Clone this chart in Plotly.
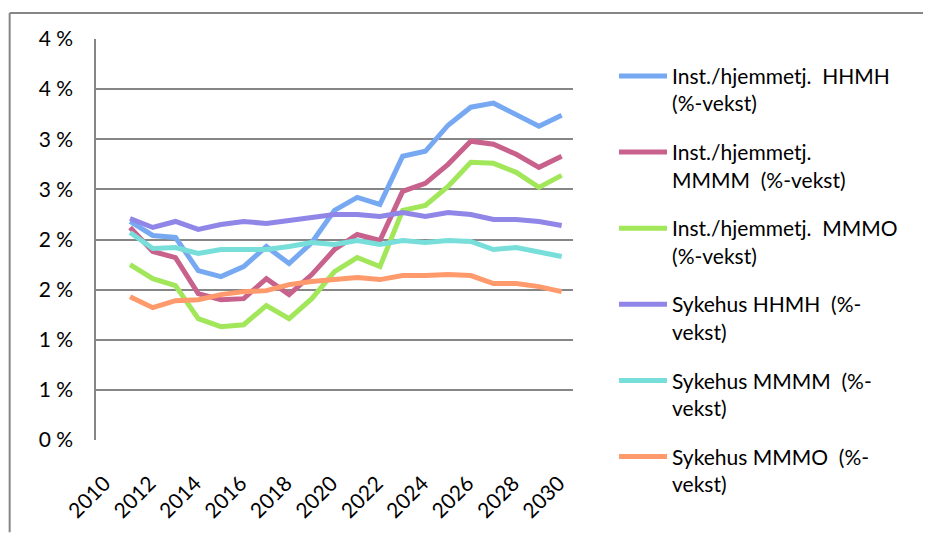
import plotly.graph_objects as go

# growth in percent
years = list(range(2011, 2031))

inst_hhmh = [2.18, 2.04, 2.02, 1.69, 1.63, 1.73, 1.93, 1.76, 1.97, 2.29,
             2.42, 2.35, 2.83, 2.88, 3.14, 3.32, 3.36, 3.24, 3.13, 3.24]
inst_mmmm = [2.12, 1.88, 1.82, 1.46, 1.40, 1.41, 1.61, 1.45, 1.65, 1.90,
             2.05, 1.99, 2.48, 2.56, 2.75, 2.98, 2.95, 2.85, 2.72, 2.83]
inst_mmmo = [1.75, 1.61, 1.54, 1.21, 1.13, 1.15, 1.34, 1.21, 1.41, 1.68,
             1.82, 1.73, 2.29, 2.34, 2.53, 2.77, 2.76, 2.67, 2.52, 2.64]
syk_hhmh = [2.21, 2.12, 2.18, 2.10, 2.15, 2.18, 2.16, 2.19, 2.23, 2.25,
            2.25, 2.23, 2.27, 2.23, 2.27, 2.25, 2.20, 2.20, 2.18, 2.14]
syk_mmmm = [2.07, 1.91, 1.92, 1.86, 1.90, 1.90, 1.90, 1.93, 1.97, 1.95,
            1.99, 1.95, 1.99, 1.97, 1.99, 1.98, 1.90, 1.92, 1.88, 1.83]
syk_mmmo = [1.43, 1.32, 1.39, 1.40, 1.45, 1.48, 1.49, 1.55, 1.58, 1.60,
            1.62, 1.60, 1.64, 1.64, 1.65, 1.64, 1.56, 1.56, 1.53, 1.48]

names = ['Inst./hjemmetj.  HHMH<br>(%-vekst)',
         'Inst./hjemmetj.<br>MMMM  (%-vekst)',
         'Inst./hjemmetj.  MMMO<br>(%-vekst)',
         'Sykehus HHMH  (%-<br>vekst)',
         'Sykehus MMMM  (%-<br>vekst)',
         'Sykehus MMMO  (%-<br>vekst)']
colors = ['#77A9F2', '#C8628C', '#A2E65A', '#8F86E8', '#78DEDA', '#FF9A6C']

y_ticks = [0, 0.5, 1, 1.5, 2, 2.5, 3, 3.5, 4]
y_labels = ['0 %', '1 %', '1 %', '2 %', '2 %', '3 %', '3 %', '4 %', '4 %']
x_ticks = list(range(2010, 2031, 2))

fig = go.Figure()
series = [inst_hhmh, inst_mmmm, inst_mmmo, syk_hhmh, syk_mmmm, syk_mmmo]
for i, (vals, name, col) in enumerate(zip(series, names, colors)):
    fig.add_trace(go.Scatter(x=years, y=vals, name=name, mode='lines',
                             legendgroup=str(i),
                             line=dict(color=col, width=5)))

grid = '#868686'
# the page body adds 8px around the figure, so keep it inside the window
fig.update_layout(
    width=915, height=526,
    margin=dict(l=88, r=350, t=31, b=90),
    paper_bgcolor='white', plot_bgcolor='white',
    font=dict(family='Lato', size=21, color='black'),
    showlegend=True,
    legend=dict(x=1.086, y=0.958, xanchor='left', yanchor='top',
                valign='top', tracegroupgap=18.5, itemwidth=48,
                maxheight=520,
                font=dict(family='Lato', size=21, color='black')),
    xaxis=dict(range=[2009.5, 2030.5], tickvals=x_ticks, tickangle=-45,
               showgrid=False, zeroline=False, showline=False,
               ticklabelstandoff=26, ticklabelshift=-3,
               tickfont=dict(size=21)),
    yaxis=dict(range=[0, 4], tickvals=y_ticks, ticktext=y_labels,
               showgrid=True, gridcolor=grid, gridwidth=1.5,
               zeroline=False, showline=True, linecolor=grid, linewidth=1.5,
               ticklabelstandoff=17, tickfont=dict(size=21)),
)

# outer chart frame (top and left edges; the rest is cut off)
frame = dict(color=grid, width=2)
fig.add_shape(type='line', xref='paper', yref='paper',
              x0=-0.181, x1=1.74, y0=1.065, y1=1.065, line=frame)
fig.add_shape(type='line', xref='paper', yref='paper',
              x0=-0.181, x1=-0.181, y0=-0.23, y1=1.065, line=frame)

fig.write_html("out.html")
